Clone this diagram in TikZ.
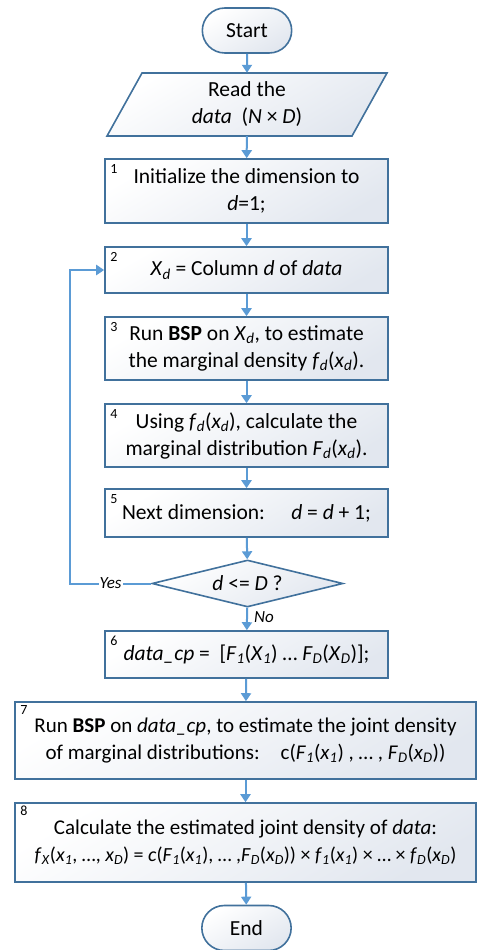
\documentclass[tikz,border=0pt]{standalone}
\usepackage{fontspec}
\setmainfont{Carlito}
\usetikzlibrary{shapes.geometric,shapes.misc,arrows.meta}
\definecolor{bord}{HTML}{41719C}
\definecolor{arr}{HTML}{5B9BD5}
\definecolor{fillb}{HTML}{E2E7EF}
\newcommand{\sbi}[1]{\textsubscript{\textit{#1}}}
\tikzset{
  x=1pt, y=-1pt,
  shd/.style={top color=white, bottom color=fillb, shading angle=30},
  box/.style={draw=bord, line width=1.6pt, shd, rectangle, inner sep=2pt,
    align=center, font=\fontsize{21.5}{27}\selectfont, minimum width=283pt},
  wbox/.style={box, minimum width=461pt, font=\fontsize{21}{27}\selectfont},
  term/.style={draw=bord, line width=1.6pt, shd, rounded rectangle,
    minimum width=96pt, minimum height=45pt, font=\fontsize{21.5}{27}\selectfont},
  dec/.style={draw=bord, line width=1.6pt, shd, diamond, inner sep=0pt, shape aspect=4.06,
    minimum width=191pt, minimum height=47pt, font=\fontsize{21.5}{27}\selectfont},
  num/.style={anchor=north west, inner sep=0pt, font=\fontsize{14}{16}\selectfont},
  arrline/.style={draw=arr, line width=2pt, -{Triangle[width=10pt,length=8pt]}},
  lbl/.style={font=\fontsize{17}{19}\selectfont\itshape, inner sep=1pt}
}
\begin{document}
\begin{tikzpicture}
\useasboundingbox (0,0) rectangle (477,950);
% start
\node[term] (start) at (247,30.5) {Start};
% read data parallelogram
\coordinate (pTL) at (142,73);
\coordinate (pTR) at (387,73);
\coordinate (pBR) at (352,136);
\coordinate (pBL) at (107,136);
\path[draw=bord, line width=1.6pt, shd] (pTL) -- (pTR) -- (pBR) -- (pBL) -- cycle;
\node[align=center, font=\fontsize{21.5}{27}\selectfont, minimum width=200pt, minimum height=63pt, inner sep=0pt] (read) at (247,104.5) {Read the\\\textit{data}~~(\textit{N} × \textit{D})};
% boxes
\node[box, minimum height=64pt] (b1) at (246.5,191) {Initialize the dimension to\\\textit{d}=1;};
\node[box, minimum height=46pt] (b2) at (246.5,270) {\textit{X}\sbi{d} = Column \textit{d} of \textit{data}};
\node[box, minimum height=63pt] (b3) at (246.5,348.5) {Run \textbf{BSP} on \textit{X}\sbi{d}, to estimate\\the marginal density \textit{f}\sbi{d}(\textit{x}\sbi{d}).};
\node[box, minimum height=63pt] (b4) at (246.5,435.5) {Using \textit{f}\sbi{d}(\textit{x}\sbi{d}), calculate the\\marginal distribution \textit{F}\sbi{d}(\textit{x}\sbi{d}).};
\node[box, minimum height=48pt] (b5) at (246.5,513) {Next dimension:\quad\ \textit{d} = \textit{d} + 1;};
\node[dec] (dec) at (247.5,583.5) {\textit{d} <= \textit{D} ?};
\node[box, minimum height=47pt] (b6) at (246.5,654.5) {\textit{data\_cp} = ~[\textit{F}\sbi{1}(\textit{X}\sbi{1}) … \textit{F}\sbi{D}(\textit{X}\sbi{D})];};
\node[wbox, minimum height=77pt] (b7) at (245.5,740.5) {Run \textbf{BSP} on \textit{data\_cp}, to estimate the joint density\\of marginal distributions:\quad c(\textit{F}\sbi{1}(\textit{x}\sbi{1}) , … , \textit{F}\sbi{D}(\textit{x}\sbi{D}))};
\node[wbox, minimum height=79pt] (b8) at (245.5,842.5) {Calculate the estimated joint density of \textit{data}:\\{\fontsize{20}{27}\selectfont\textit{f}\sbi{X}(\textit{x}\sbi{1}, …, \textit{x}\sbi{D}) = \textit{c}(\textit{F}\sbi{1}(\textit{x}\sbi{1}), … ,\textit{F}\sbi{D}(\textit{x}\sbi{D})) × \textit{f}\sbi{1}(\textit{x}\sbi{1}) × … × \textit{f}\sbi{D}(\textit{x}\sbi{D})}};
\node[term] (end) at (246.5,928) {End};
% numbers
\node[num] (n1) at ([shift={(6,6)}]b1.north west) {1};
\node[num] (n2) at ([shift={(6,6)}]b2.north west) {2};
\node[num] (n3) at ([shift={(6,6)}]b3.north west) {3};
\node[num] (n4) at ([shift={(6,6)}]b4.north west) {4};
\node[num] (n5) at ([shift={(6,6)}]b5.north west) {5};
\node[num] (n6) at ([shift={(6,6)}]b6.north west) {6};
\node[num] (n7) at ([shift={(6,4)}]b7.north west) {7};
\node[num] (n8) at ([shift={(6,4)}]b8.north west) {8};
% arrows
\draw[arrline] (start) -- (read);
\draw[arrline] (read) -- (b1);
\draw[arrline] (b1) -- (b2);
\draw[arrline] (b2) -- (b3);
\draw[arrline] (b3) -- (b4);
\draw[arrline] (b4) -- (b5);
\draw[arrline] (b5) -- (dec);
\draw[arrline] (dec) -- node[lbl, anchor=west, pos=0.4, xshift=5pt] (no) {No} (b6);
\draw[arrline] (b6) -- (b7);
\draw[arrline] (b7) -- (b8);
\draw[arrline] (b8) -- (end);
\coordinate (lx) at (70,0);
\draw[arrline] (dec.west) -- node[lbl, fill=white, pos=0.5] (yes) {Yes} (lx |- dec.west) |- (b2.west);
\end{tikzpicture}
\end{document}
